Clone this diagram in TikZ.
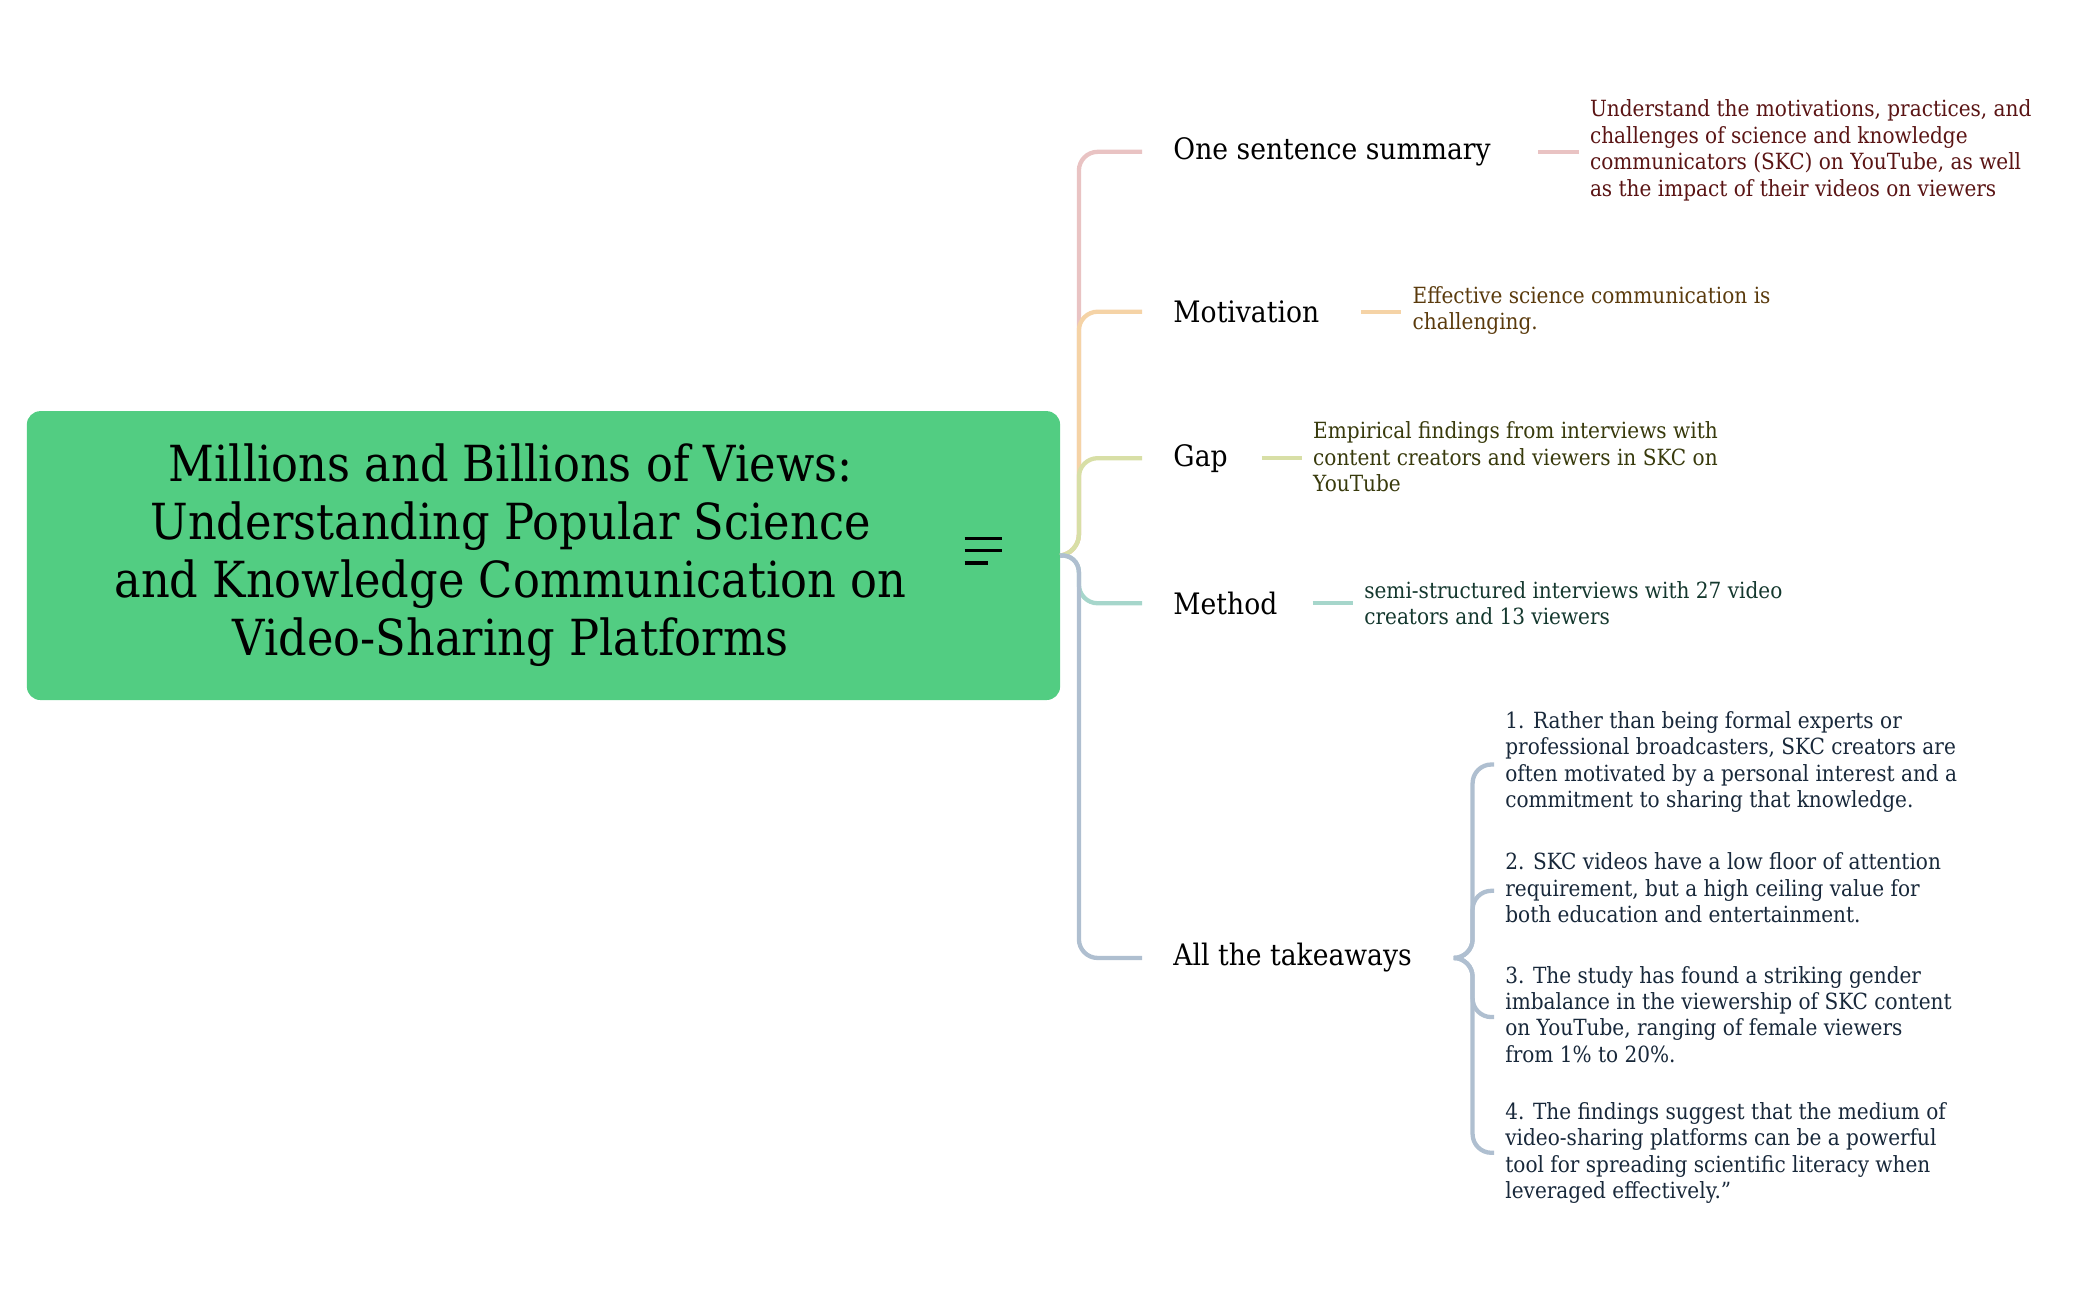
\documentclass[tikz,border=0pt]{standalone}
\usepackage{fontspec}
\setmainfont{DejaVu Serif}[FakeStretch=0.9]
\definecolor{green1}{HTML}{52CD82}
\definecolor{cA}{HTML}{E9C3C3}
\definecolor{cB}{HTML}{F5D3A6}
\definecolor{cC}{HTML}{D8DFA6}
\definecolor{cD}{HTML}{A6D6CB}
\definecolor{cE}{HTML}{AFBFD0}
\definecolor{tA}{HTML}{5A1414}
\definecolor{tB}{HTML}{5A3A0C}
\definecolor{tC}{HTML}{383A0C}
\definecolor{tD}{HTML}{14382E}
\definecolor{tE}{HTML}{18283A}
\tikzset{
 conn/.style={line width=1.6pt,rounded corners=7pt},
 branch/.style={anchor=west,inner sep=0pt,font=\fontsize{11}{13}\selectfont},
 leaf/.style={anchor=west,inner sep=0pt,align=left,font=\fontsize{8.3}{9.85}\selectfont},
}
\begin{document}
\begin{tikzpicture}[x=0.5pt,y=-0.5pt]
\useasboundingbox (0,0) rectangle (1560,968);
\node[fill=green1,rounded corners=5pt,minimum width=384.5pt,minimum height=107.5pt,inner sep=0pt] (title) at (404.5,413.5) {};
\node[align=center,font=\fontsize{18.5}{21.6}\selectfont,inner sep=0pt] (tt) at (380,413) {Millions and Billions of Views:\\Understanding Popular Science\\and Knowledge Communication on\\Video-Sharing Platforms};
\node[inner sep=0pt,minimum width=16pt,minimum height=12pt] (icon) at (732,411) {};
\draw[line width=1.2pt] (718,401)--(746,401) (718,410)--(746,410) (718,419)--(735,419);
\coordinate (hub) at (803,412);
% branch labels
\node[branch] (b1) at (873,113) {One sentence summary};
\node[branch] (b2) at (873,232) {Motivation};
\node[branch] (b3) at (873,341) {Gap};
\node[branch] (b4) at (873,449) {Method};
\node[branch] (b5) at (873,713) {All the takeaways};
\foreach \n/\c/\y in {1/cA/113,2/cB/232,3/cC/341,4/cD/449,5/cE/713}{
 \coordinate (e\n) at (850,\y);
 \draw[conn,\c] (title.east) -- (hub) |- (e\n);
}
% leaves
\node[leaf,text=tA] (l1) at (1183,112) {Understand the motivations, practices, and\\challenges of science and knowledge\\communicators (SKC) on YouTube, as well\\as the impact of their videos on viewers};
\node[leaf,text=tB] (l2) at (1051,231) {Effective science communication is\\challenging.};
\node[leaf,text=tC] (l3) at (977,340) {Empirical findings from interviews with\\content creators and viewers in SKC on\\YouTube};
\node[leaf,text=tD] (l4) at (1015,449) {semi-structured interviews with 27 video\\creators and 13 viewers};
\draw[conn,cA] (1145,113) -- (1175,113);
\draw[conn,cB] (1013,232) -- (1043,232);
\draw[conn,cC] (939,341) -- (969,341);
\draw[conn,cD] (977,449) -- (1007,449);
\node[leaf,text=tE] (t1) at (1120,567) {1. Rather than being formal experts or\\professional broadcasters, SKC creators are\\often motivated by a personal interest and a\\commitment to sharing that knowledge.};
\node[leaf,text=tE] (t2) at (1120,661) {2. SKC videos have a low floor of attention\\requirement, but a high ceiling value for\\both education and entertainment.};
\node[leaf,text=tE] (t3) at (1120,755) {3. The study has found a striking gender\\imbalance in the viewership of SKC content\\on YouTube, ranging of female viewers\\from 1\% to 20\%.};
\node[leaf,text=tE] (t4) at (1120,858) {4. The findings suggest that the medium of\\video-sharing platforms can be a powerful\\tool for spreading scientific literacy when\\leveraged effectively."};
\coordinate (h2) at (1096,713);
\foreach \y [count=\i] in {569,663,757,858}{
 \coordinate (f\i) at (1112,\y);
 \draw[conn,cE] (1082,713) -- (h2) |- (f\i);
}
\end{tikzpicture}
\end{document}
